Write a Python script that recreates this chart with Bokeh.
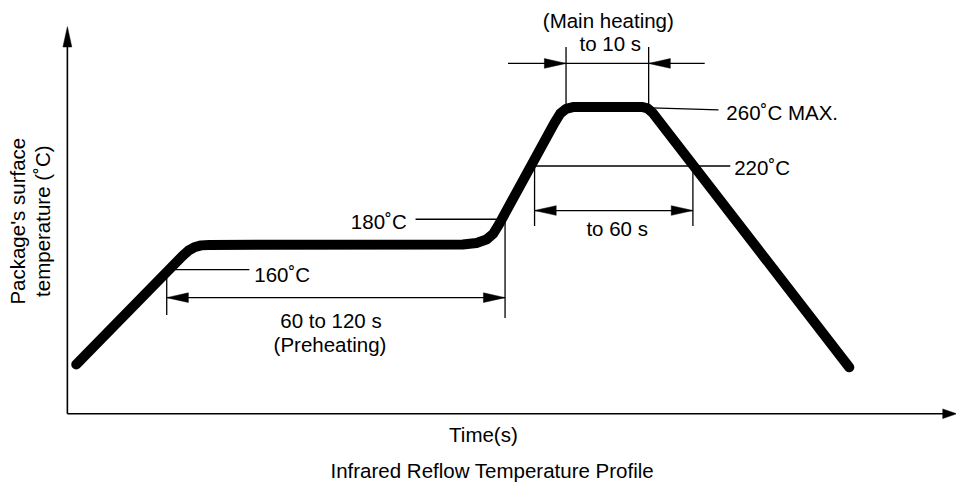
import math
from bokeh.plotting import figure
from bokeh.models import Range1d
from bokeh.core.properties import value
from bokeh.embed import file_html
from bokeh.resources import INLINE

# ---- schematic reflow profile (time units, temperature units of the drawing) ----
profile_t = [9, 117, 123, 129, 136, 144, 402, 416, 426, 433, 439, 495, 501, 507, 515,
             584, 590, 595, 795]
profile_T = [51, 163, 168.5, 172, 174, 174.5, 175, 176.5, 180, 186, 196, 300, 310, 315, 317,
             317, 315.5, 311, 48]

# temperature levels marked on the curve
level_names = ["160˚C", "180˚C", "220˚C", "260˚C MAX."]
level_y = [149, 201, 256, 316]
level_x0 = [101, 354, 472, 594]
level_x1 = [185, 445, 674, 662]
level_y1 = [149, 201, 256, 314]

# time spans (start, end) with their arrow heights
span_names = ["60 to 120 s", "to 60 s", "to 10 s"]
span_t0 = [101, 475, 507]
span_t1 = [445, 636, 591]
span_arrow_y = [120, 210, 362]
span_tick_lo = [[102, 99], [194, 194], [317, 317]]
span_tick_hi = [[149, 201], [256, 256], [379, 379]]

axis_x_max = 904
axis_y_max = 400

FONT = value("Liberation Sans")
FS = "20.5px"
HEAD_L = 22
HEAD_W = 5
BASE_SHIFT = 6.7   # compensates the renderer's baseline placement

p = figure(width=956, height=482, x_range=Range1d(-68, 904), y_range=Range1d(-71, 427),
           output_backend="svg", toolbar_location=None, min_border=0,
           x_axis_location=None, y_axis_location=None)
p.grid.visible = False
p.outline_line_color = None
p.background_fill_color = "white"
p.border_fill_color = "white"

# axes
p.segment(x0=[0, 0], y0=[0, 0], x1=[0, axis_x_max - 10], y1=[axis_y_max - 10, 0],
          line_color="black", line_width=1.6)


def head(tx, ty, dx, dy, L=HEAD_L, W=HEAD_W):
    bx, by = tx - dx * L, ty - dy * L
    nx, ny = -dy, dx
    return [tx, bx + nx * W, bx - nx * W], [ty, by + ny * W, by - ny * W]


hx, hy = [], []
for (tx, ty, dx, dy, L, W) in [(0, axis_y_max, 0, 1, 21, 4.5),
                               (axis_x_max, 0, 1, 0, 14, 5)]:
    a, b = head(tx, ty, dx, dy, L, W)
    hx.append(a)
    hy.append(b)

# profile curve
p.line(profile_t, profile_T, line_color="black", line_width=10,
       line_cap="round", line_join="round")

# level leader lines
p.segment(x0=level_x0, y0=level_y, x1=level_x1, y1=level_y1,
          line_color="black", line_width=1.3)

# span ticks and arrows
tx0, ty0, tx1, ty1 = [], [], [], []
ax0, ay0, ax1, ay1 = [], [], [], []
for i in range(len(span_names)):
    for j, t in enumerate([span_t0[i], span_t1[i]]):
        tx0.append(t); tx1.append(t)
        ty0.append(span_tick_lo[i][j]); ty1.append(span_tick_hi[i][j])
    if i < 2:
        ax0.append(span_t0[i]); ax1.append(span_t1[i])
        ay0.append(span_arrow_y[i]); ay1.append(span_arrow_y[i])
        a, b = head(span_t0[i], span_arrow_y[i], -1, 0); hx.append(a); hy.append(b)
        a, b = head(span_t1[i], span_arrow_y[i], 1, 0); hx.append(a); hy.append(b)
    else:
        ax0.append(span_t0[i] - 59); ax1.append(span_t1[i] + 57)
        ay0.append(span_arrow_y[i]); ay1.append(span_arrow_y[i])
        a, b = head(span_t0[i], span_arrow_y[i], 1, 0); hx.append(a); hy.append(b)
        a, b = head(span_t1[i], span_arrow_y[i], -1, 0); hx.append(a); hy.append(b)

p.segment(x0=tx0, y0=ty0, x1=tx1, y1=ty1, line_color="black", line_width=1.3)
p.segment(x0=ax0, y0=ay0, x1=ax1, y1=ay1, line_color="black", line_width=1.3)
p.patches(hx, hy, fill_color="black", line_color="black", line_width=0.5)

# texts
def txt(x, y, s, align="left", angle=0.0):
    if angle:
        x = x - BASE_SHIFT
    else:
        y = y + BASE_SHIFT
    p.text(x=[x], y=[y], text=[s], text_font=FONT, text_font_size=FS,
           text_align=align, text_baseline="alphabetic", text_color="black", angle=angle)

txt(190, 137, level_names[0])
txt(345, 192, level_names[1], "right")
txt(678, 248, level_names[2])
txt(670, 305, level_names[3])
txt(268, 90, span_names[0], "center")
txt(267, 65, "(Preheating)", "center")
txt(559, 185, span_names[1], "center")
txt(552, 376, span_names[2], "center")
txt(550, 400, "(Main heating)", "center")
txt(423, -28, "Time(s)", "center")
txt(432, -65, "Infrared Reflow Temperature Profile", "center")
txt(-44, 199, "Package's surface", "center", math.pi / 2)
txt(-19, 199, "temperature (˚C)", "center", math.pi / 2)

open("out.html", "w").write(file_html(p, INLINE))
